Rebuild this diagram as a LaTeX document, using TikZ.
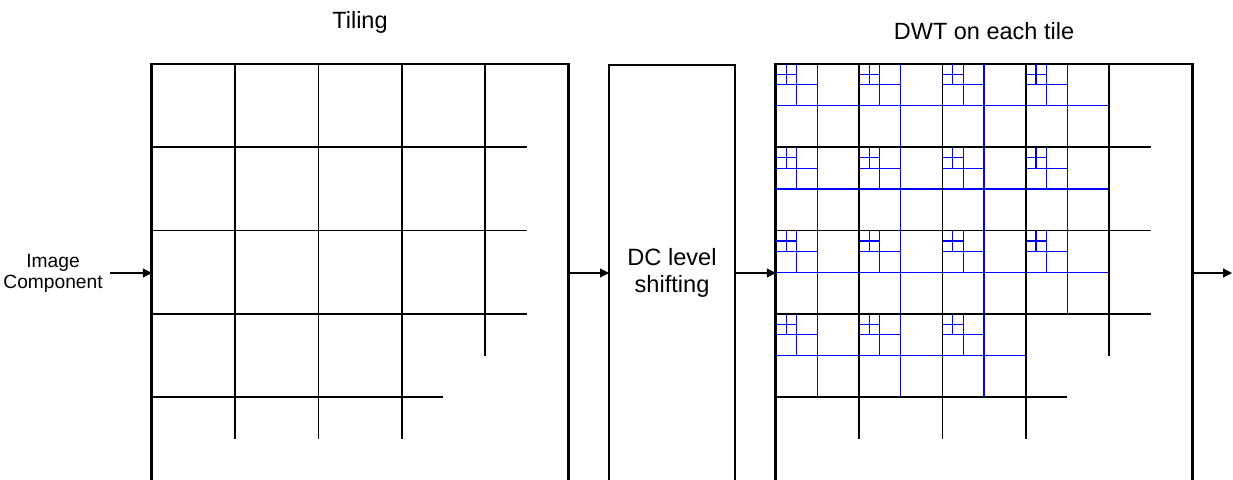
\documentclass[tikz,border=0pt]{standalone}
\usepackage{fontspec}
\setmainfont{Liberation Sans}
\usetikzlibrary{arrows.meta,positioning}

\newcommand{\tilesize}{83.3}

\begin{document}
\begin{tikzpicture}[
  x=0.5pt, y=-0.5pt,
  frame/.style={draw, line width=1.3pt, outer sep=0pt, minimum width=208.25pt, minimum height=209pt},
  block/.style={draw, line width=0.8pt, outer sep=0pt, minimum width=63pt, minimum height=208pt, align=center, font=\fontsize{11.8}{13.3}\selectfont},
  title/.style={anchor=base, font=\fontsize{11.75}{14}\selectfont},
  tile/.style={line width=0.85pt},
  sub/.style={blue, line width=0.6pt},
  arrow/.style={-{Triangle[length=4.5pt,width=4.5pt]}, line width=0.55pt},
  dwt/.pic={
    \draw[sub] (\tilesize/2,0) -- (\tilesize/2,\tilesize) (0,\tilesize/2) -- (\tilesize,\tilesize/2)
      (\tilesize/4,0) -- (\tilesize/4,\tilesize/2) (0,\tilesize/4) -- (\tilesize/2,\tilesize/4)
      (\tilesize/8,0) -- (\tilesize/8,\tilesize/4) (0,\tilesize/8) -- (\tilesize/4,\tilesize/8);
  }
]
\useasboundingbox (0,0) rectangle (1233,479);
\clip (0,0) rectangle (1233,479);

\node[frame] (tiling) at (360,273) {};
\node[block] (dc) at (672,273) {DC level\\shifting};
\node[frame] (dwt) at (984,273) {};
\node[align=center, font=\fontsize{9.6}{10.5}\selectfont, left=21pt of tiling] (input) {Image\\Component};
\coordinate (out) at (1232,273);

\node[title] (tilingtitle) at ([yshift=17.75pt]tiling.north) {Tiling};
\node[title] (dwttitle) at ([yshift=12.5pt]dwt.north) {DWT on each tile};

\begin{scope}[shift={(dwt.north west)}]
  \foreach \r in {0,...,3}
    \foreach \c in {0,...,3}
      {\ifnum\numexpr\r+\c\relax<6 \pic at (\c*\tilesize,\r*\tilesize) {dwt};\fi}
\end{scope}

\foreach \f in {tiling,dwt} {
  \begin{scope}[shift={(\f.north west)}]
    \foreach \k in {1,2,3} {
      \draw[tile] (0,\k*\tilesize) -- (4.5*\tilesize,\k*\tilesize);
      \draw[tile] (\k*\tilesize,0) -- (\k*\tilesize,4.5*\tilesize);
    }
    \draw[tile] (0,4*\tilesize) -- (3.5*\tilesize,4*\tilesize);
    \draw[tile] (4*\tilesize,0) -- (4*\tilesize,3.5*\tilesize);
  \end{scope}
}

\draw[arrow] (input.east) -- (tiling.west);
\draw[arrow] (tiling.east) -- (dc.west);
\draw[arrow] (dc.east) -- (dwt.west);
\draw[arrow] (dwt.east) -- (out);
\end{tikzpicture}
\end{document}
